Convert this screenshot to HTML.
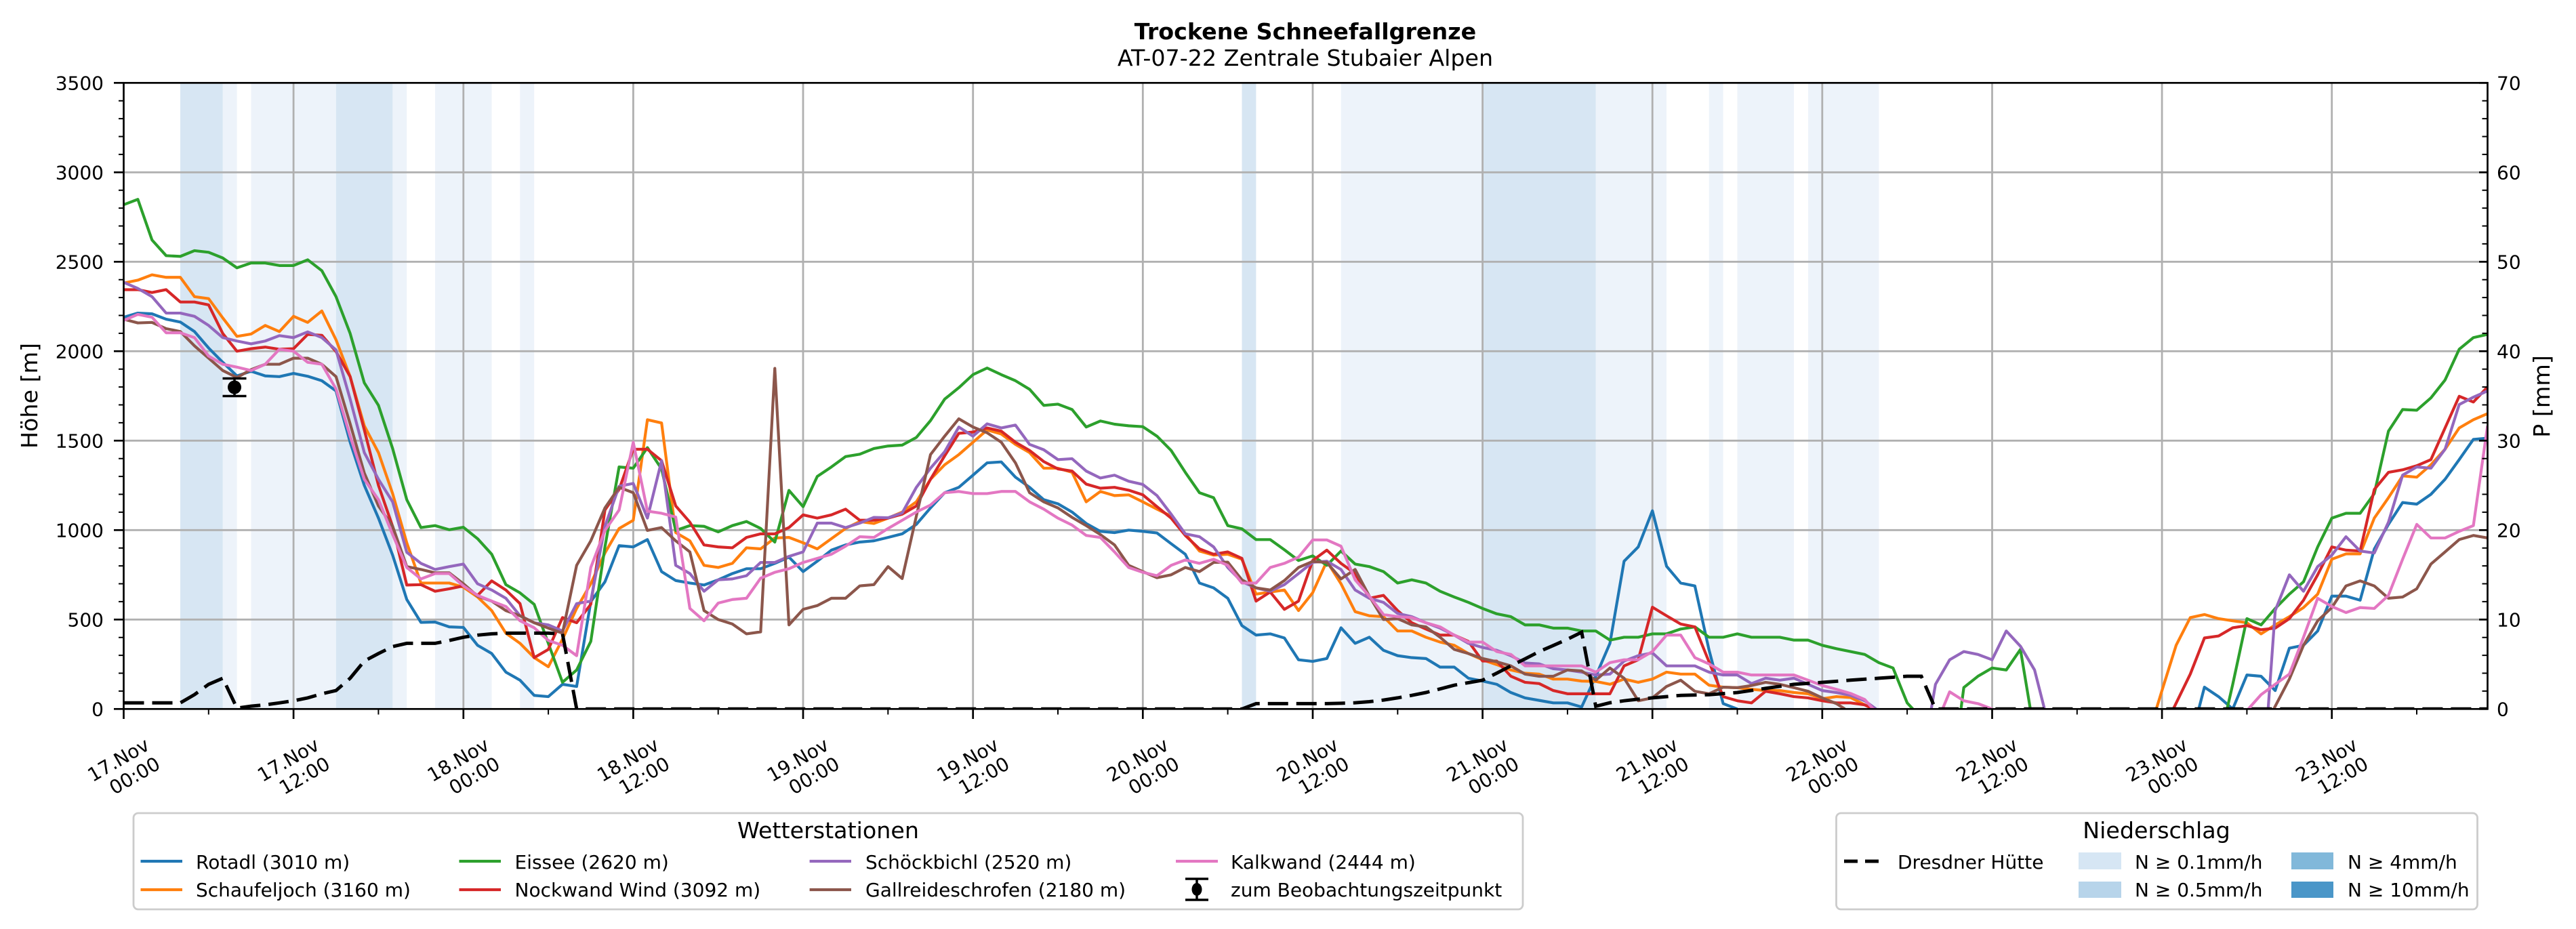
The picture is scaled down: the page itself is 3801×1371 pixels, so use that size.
<!DOCTYPE html>
<html>
<head>
<meta charset="utf-8">
<style>
html,body{margin:0;padding:0;background:#fff;}
svg{display:block;}
text{font-family:"DejaVu Sans","Liberation Sans",sans-serif;fill:#000;}
</style>
</head>
<body>
<svg width="3801" height="1371" viewBox="0 0 3801 1371" xmlns="http://www.w3.org/2000/svg">
<defs>
<clipPath id="c"><rect x="182.5" y="122.3" width="3488" height="924"/></clipPath>
</defs>
<rect x="0" y="0" width="3801" height="1371" fill="#fff"/>

<!-- Title -->
<text x="1926" y="58" font-size="33.3" font-weight="bold" text-anchor="middle">Trockene Schneefallgrenze</text>
<text x="1926" y="97" font-size="33.3" text-anchor="middle">AT-07-22 Zentrale Stubaier Alpen</text>

<!-- precipitation bands -->
<g fill="#edf3fa">
<rect x="328.7" y="122.3" width="20.9" height="924"/>
<rect x="370.5" y="122.3" width="125.3" height="924"/>
<rect x="579.3" y="122.3" width="20.9" height="924"/>
<rect x="642.0" y="122.3" width="83.5" height="924"/>
<rect x="767.3" y="122.3" width="20.9" height="924"/>
<rect x="1978.7" y="122.3" width="208.9" height="924"/>
<rect x="2354.6" y="122.3" width="104.4" height="924"/>
<rect x="2521.7" y="122.3" width="20.9" height="924"/>
<rect x="2563.5" y="122.3" width="83.5" height="924"/>
<rect x="2667.9" y="122.3" width="104.5" height="924"/>
</g>
<g fill="#d7e6f3">
<rect x="266.0" y="122.3" width="62.7" height="924"/>
<rect x="495.8" y="122.3" width="83.5" height="924"/>
<rect x="1832.5" y="122.3" width="20.9" height="924"/>
<rect x="2187.6" y="122.3" width="167.0" height="924"/>
</g>

<!-- grid -->
<g stroke="#b0b0b0" stroke-width="2.8">
<line x1="182.5" y1="914.3" x2="3670.5" y2="914.3"/>
<line x1="182.5" y1="782.3" x2="3670.5" y2="782.3"/>
<line x1="182.5" y1="650.3" x2="3670.5" y2="650.3"/>
<line x1="182.5" y1="518.3" x2="3670.5" y2="518.3"/>
<line x1="182.5" y1="386.3" x2="3670.5" y2="386.3"/>
<line x1="182.5" y1="254.3" x2="3670.5" y2="254.3"/>
<line x1="433.1" y1="122.3" x2="433.1" y2="1046.3"/>
<line x1="683.8" y1="122.3" x2="683.8" y2="1046.3"/>
<line x1="934.4" y1="122.3" x2="934.4" y2="1046.3"/>
<line x1="1185.0" y1="122.3" x2="1185.0" y2="1046.3"/>
<line x1="1435.7" y1="122.3" x2="1435.7" y2="1046.3"/>
<line x1="1686.3" y1="122.3" x2="1686.3" y2="1046.3"/>
<line x1="1937.0" y1="122.3" x2="1937.0" y2="1046.3"/>
<line x1="2187.6" y1="122.3" x2="2187.6" y2="1046.3"/>
<line x1="2438.2" y1="122.3" x2="2438.2" y2="1046.3"/>
<line x1="2688.8" y1="122.3" x2="2688.8" y2="1046.3"/>
<line x1="2939.5" y1="122.3" x2="2939.5" y2="1046.3"/>
<line x1="3190.1" y1="122.3" x2="3190.1" y2="1046.3"/>
<line x1="3440.7" y1="122.3" x2="3440.7" y2="1046.3"/>
</g>

<!-- data series -->
<g clip-path="url(#c)">
<g transform="translate(182.5,1046.3) scale(20.886,-0.264)" fill="none" stroke-width="4.2" stroke-linejoin="round">
<g stroke="#1f77b4">
<polyline vector-effect="non-scaling-stroke" points="0,2190 1,2213 2,2209 3,2179 4,2163 5,2110 6,2018 7,1938 8,1862 9,1888 10,1862 11,1858 12,1876 13,1860 14,1835 15,1778 16,1491 17,1250 18,1067 19,860 20,612 21,484 22,486 23,459 24,456 25,356 26,310 27,206 28,161 29,76 30,69 31,138 32,126 33,600 34,711 35,913 36,906 37,947 38,768 39,718 40,704 41,693 42,722 43,757 44,784 45,784 46,814 47,849 48,768 49,826 50,888 51,917 52,933 53,940 54,959 55,979 56,1032 57,1124 58,1209 59,1239 60,1307 61,1376 62,1381 63,1296 64,1239 65,1170 66,1147 67,1101 68,1037 69,993 70,986 71,1000 72,993 73,984 74,924 75,865 76,704 77,677 78,619 79,466 80,413 81,420 82,397 83,275 84,266 85,282 86,454 87,367 88,401 89,328 90,298 91,287 92,282 93,234 94,234 95,172 96,156 97,138 98,92 99,62 100,48 101,34 102,34 103,11 104,183 105,367 106,826 107,906 108,1108 109,798 110,704 111,688 112,330 113,30 114,0"/>
<polyline vector-effect="non-scaling-stroke" points="146.6,0 147,122 148,69 149,0 150,190 151,183 152,103 153,340 154,356 155,436 156,631 157,631 158,608 159,894 160,1032 161,1154 162,1145 163,1200 164,1284 165,1394 166,1507 167,1514"/>
</g>
<g stroke="#ff7f0e">
<polyline vector-effect="non-scaling-stroke" points="0,2381 1,2397 2,2427 3,2413 4,2413 5,2305 6,2294 7,2186 8,2083 9,2096 10,2144 11,2110 12,2195 13,2161 14,2225 15,2064 16,1858 17,1583 18,1433 19,1204 20,929 21,704 22,704 23,704 24,681 25,626 26,550 27,424 28,367 29,287 30,236 31,390 32,562 33,700 34,872 35,1009 36,1055 37,1617 38,1599 39,986 40,940 41,803 42,791 43,814 44,901 45,895 46,956 47,959 48,929 49,895 50,952 51,1009 52,1048 53,1037 54,1067 55,1101 56,1158 57,1284 58,1365 59,1422 60,1491 61,1560 62,1537 63,1479 64,1433 65,1346 66,1346 67,1323 68,1158 69,1216 70,1193 71,1197 72,1158 73,1117 74,1078 75,979 76,883 77,860 78,865 79,837 80,642 81,654 82,665 83,550 84,650 85,826 86,700 87,544 88,521 89,516 90,436 91,436 92,401 93,374 94,356 95,310 96,275 97,248 98,218 99,200 100,195 101,167 102,167 103,156 104,154 105,138 106,167 107,149 108,167 109,206 110,195 111,195 112,133 113,122 114,119 115,110 116,103 117,103 118,92 119,85 120,57 121,69 122,64 123,23 123.6,0"/>
<polyline vector-effect="non-scaling-stroke" points="143.6,0 144,103 145,356 146,511 147,528 148,505 149,493 150,482 151,420 152,470 153,516 154,567 155,642 156,837 157,867 158,867 159,1067 160,1181 161,1303 162,1296 163,1365 164,1452 165,1571 166,1617 167,1651"/>
</g>
<g stroke="#2ca02c">
<polyline vector-effect="non-scaling-stroke" points="0,2819 1,2849 2,2622 3,2534 4,2530 5,2562 6,2553 7,2521 8,2466 9,2493 10,2493 11,2479 12,2479 13,2511 14,2450 15,2305 16,2099 17,1823 18,1697 19,1456 20,1170 21,1014 22,1025 23,1002 24,1016 25,952 26,865 27,695 28,649 29,585 30,367 31,149 32,218 33,378 34,906 35,1353 36,1346 37,1461 38,1342 39,998 40,1025 41,1021 42,990 43,1025 44,1048 45,1009 46,933 47,1222 48,1131 49,1300 50,1353 51,1411 52,1424 53,1456 54,1470 55,1475 56,1518 57,1612 58,1732 59,1796 60,1869 61,1906 62,1869 63,1835 64,1787 65,1697 66,1704 67,1674 68,1576 69,1610 70,1592 71,1583 72,1578 73,1525 74,1445 75,1323 76,1209 77,1181 78,1025 79,1007 80,947 81,947 82,890 83,830 84,856 85,803 86,883 87,810 88,796 89,768 90,704 91,722 92,704 93,658 94,626 95,596 96,562 97,532 98,516 99,470 100,470 101,452 102,452 103,436 104,436 105,385 106,401 107,401 108,420 109,420 110,447 111,459 112,401 113,401 114,420 115,401 116,401 117,401 118,385 119,385 120,356 121,337 122,321 123,305 124,259 125,229 126,34 126.4,0"/>
<polyline vector-effect="non-scaling-stroke" points="129.8,0 130,120 131,183 132,229 133,218 134,333 134.7,0"/>
<polyline vector-effect="non-scaling-stroke" points="148.6,0 149,138 150,505 151,470 152,562 153,642 154,711 155,906 156,1067 157,1094 158,1094 159,1204 160,1553 161,1674 162,1670 163,1739 164,1839 165,2011 166,2076 167,2094"/>
</g>
<g stroke="#d62728">
<polyline vector-effect="non-scaling-stroke" points="0,2344 1,2344 2,2328 3,2344 4,2275 5,2275 6,2259 7,2099 8,2000 9,2014 10,2023 11,2011 12,2014 13,2094 14,2089 15,1998 16,1858 17,1560 18,1250 19,1021 20,693 21,695 22,658 23,672 24,688 25,635 26,716 27,665 28,589 29,287 30,333 31,511 32,482 33,585 34,1112 35,1227 36,1452 37,1452 38,1388 39,1135 40,1044 41,917 42,906 43,901 44,959 45,979 46,979 47,1014 48,1085 49,1067 50,1085 51,1117 52,1055 53,1055 54,1067 55,1089 56,1135 57,1284 58,1415 59,1541 60,1548 61,1571 62,1553 63,1491 64,1445 65,1383 66,1342 67,1330 68,1257 69,1234 70,1239 71,1223 72,1197 73,1131 74,1067 75,970 76,895 77,865 78,878 79,842 80,603 81,654 82,557 83,603 84,830 85,888 86,814 87,757 88,619 89,635 90,550 91,482 92,447 93,413 94,413 95,378 96,268 97,268 98,183 99,149 100,142 101,103 102,85 103,85 104,85 105,85 106,241 107,275 108,569 109,521 110,475 111,459 112,264 113,69 114,46 115,34 116,99 117,85 118,69 119,62 120,46 121,34 122,34 123,23 123.6,0"/>
<polyline vector-effect="non-scaling-stroke" points="144.8,0 146,195 147,397 148,408 149,454 150,466 151,443 152,452 153,505 154,608 155,750 156,906 157,888 158,883 159,1227 160,1323 161,1337 162,1360 163,1394 164,1571 165,1748 166,1716 167,1800"/>
</g>
<g stroke="#9467bd">
<polyline vector-effect="non-scaling-stroke" points="0,2385 1,2351 2,2305 3,2213 4,2213 5,2195 6,2144 7,2076 8,2057 9,2041 10,2057 11,2087 12,2076 13,2108 14,2076 15,2007 16,1732 17,1433 18,1284 19,1158 20,876 21,814 22,780 23,796 24,810 25,700 26,665 27,619 28,521 29,482 30,470 31,436 32,589 33,603 34,1021 35,1245 36,1261 37,1067 38,1388 39,803 40,757 41,658 42,722 43,727 44,745 45,819 46,819 47,853 48,878 49,1039 50,1039 51,1014 52,1039 53,1071 54,1069 55,1096 56,1239 57,1346 58,1438 59,1576 60,1525 61,1594 62,1571 63,1587 64,1479 65,1449 66,1394 67,1399 68,1330 69,1291 70,1307 71,1273 72,1255 73,1193 74,1089 75,979 76,963 77,906 78,791 79,711 80,677 81,658 82,695 83,757 84,820 85,826 86,780 87,665 88,619 89,596 90,534 91,516 92,482 93,452 94,413 95,367 96,344 97,328 98,298 99,257 100,252 101,225 102,218 103,206 104,190 105,195 106,268 107,298 108,314 109,241 110,241 111,241 112,206 113,190 114,190 115,142 116,172 117,161 118,172 119,138 120,103 121,92 122,76 123,46 123.8,0"/>
<polyline vector-effect="non-scaling-stroke" points="127.7,0 128,138 129,275 130,321 131,305 132,275 133,436 134,351 135,218 135.7,0"/>
<polyline vector-effect="non-scaling-stroke" points="151.5,0 152,550 153,750 154,658 155,796 156,860 157,963 158,883 159,872 160,1044 161,1307 162,1353 163,1346 164,1452 165,1702 166,1743 167,1778"/>
</g>
<g stroke="#8c564b">
<polyline vector-effect="non-scaling-stroke" points="0,2179 1,2158 2,2161 3,2126 4,2110 5,2030 6,1961 7,1892 8,1853 9,1897 10,1927 11,1927 12,1961 13,1961 14,1927 15,1858 16,1594 17,1319 18,1135 19,1021 20,796 21,780 22,761 23,761 24,700 25,631 26,603 27,550 28,521 29,482 30,452 31,424 32,803 33,940 34,1124 35,1239 36,1209 37,998 38,1014 39,940 40,878 41,550 42,500 43,475 44,420 45,431 46,1904 47,470 48,557 49,578 50,619 51,619 52,688 53,695 54,796 55,729 56,1078 57,1422 58,1525 59,1622 60,1576 61,1544 62,1491 63,1376 64,1209 65,1158 66,1124 67,1071 68,1025 69,975 70,917 71,803 72,768 73,734 74,750 75,791 76,768 77,819 78,821 79,722 80,677 81,665 82,718 83,791 84,825 85,819 86,727 87,780 88,631 89,500 90,505 91,470 92,459 93,401 94,333 95,310 96,282 97,264 98,241 99,195 100,183 101,183 102,218 103,213 104,161 105,229 106,172 107,46 108,62 109,126 110,161 111,99 112,85 113,122 114,119 115,131 116,149 117,138 118,119 119,99 120,62 121,30 121.6,0"/>
<polyline vector-effect="non-scaling-stroke" points="151.9,0 153,167 154,356 155,493 156,567 157,688 158,716 159,688 160,619 161,626 162,672 163,810 164,878 165,947 166,970 167,956"/>
</g>
<g stroke="#e377c2">
<polyline vector-effect="non-scaling-stroke" points="0,2172 1,2206 2,2190 3,2103 4,2103 5,2076 6,1973 7,1927 8,1911 9,1892 10,1927 11,2011 12,2000 13,1938 14,1927 15,1789 16,1525 17,1284 18,1170 19,975 20,791 21,727 22,757 23,757 24,688 25,635 26,603 27,573 28,493 29,454 30,383 31,356 32,298 33,791 34,998 35,1112 36,1491 37,1106 38,1094 39,1073 40,562 41,493 42,592 43,612 44,619 45,731 46,764 47,784 48,819 49,842 50,865 51,910 52,963 53,959 54,1009 55,1055 56,1101 57,1140 58,1209 59,1216 60,1204 61,1204 62,1216 63,1216 64,1158 65,1117 66,1067 67,1028 68,970 69,959 70,878 71,791 72,764 73,745 74,803 75,833 76,814 77,837 78,803 79,704 80,704 81,791 82,814 83,849 84,945 85,945 86,910 87,722 88,631 89,528 90,516 91,511 92,482 93,459 94,413 95,374 96,374 97,321 98,305 99,241 100,241 101,241 102,241 103,241 104,206 105,259 106,275 107,275 108,321 109,413 110,413 111,287 112,252 113,206 114,206 115,190 116,190 117,190 118,190 119,161 120,131 121,110 122,87 123,53 123.6,0"/>
<polyline vector-effect="non-scaling-stroke" points="128.5,0 129,96 130,46 131,30 132,0"/>
<polyline vector-effect="non-scaling-stroke" points="150.1,0 151,80 152,138 153,195 154,401 155,619 156,573 157,539 158,567 159,562 160,635 161,837 162,1032 163,956 164,956 165,993 166,1025 167,1583"/>
</g>
</g>

<!-- observation error bar -->
<g stroke="#000" stroke-width="3.5">
<line x1="346" y1="558.5" x2="346" y2="584.5"/>
<line x1="328.5" y1="558.5" x2="363.5" y2="558.5"/>
<line x1="328.5" y1="584.5" x2="363.5" y2="584.5"/>
</g>
<circle cx="346" cy="571.5" r="10" fill="#000"/>

<!-- Dresdner Huette dashed -->
<polyline fill="none" stroke="#000" stroke-width="5" stroke-dasharray="30,12" points="182.5,1037.3 266.0,1037.3 286.9,1025.2 307.8,1009.9 328.7,1000.9 349.6,1045.0 370.5,1042.1 391.4,1040.2 412.2,1037.3 433.1,1034.2 454.0,1029.9 474.9,1023.9 495.8,1019.1 516.7,1000.9 537.6,975.5 558.4,964.5 579.3,954.2 600.2,949.4 621.1,949.4 642.0,949.4 662.9,945.2 683.8,940.4 704.7,937.3 725.5,935.4 746.4,934.4 809.1,934.4 830.0,935.4 850.9,1046.3 1832.5,1046.3 1853.4,1038.4 1957.8,1038.4 1978.7,1037.9 1999.6,1037.1 2020.5,1035.5 2041.4,1033.1 2062.2,1029.9 2083.1,1026.2 2104.0,1022.0 2124.9,1016.7 2145.8,1011.2 2166.7,1007.5 2187.6,1003.8 2208.4,993.5 2229.3,982.7 2250.2,972.4 2271.1,961.6 2292.0,952.6 2312.9,943.3 2333.8,933.0 2354.6,1042.3 2375.5,1037.1 2396.4,1034.2 2417.3,1031.8 2438.2,1029.9 2480.0,1026.2 2521.7,1025.2 2563.5,1022.0 2605.3,1015.9 2647.0,1009.9 2688.8,1007.0 2730.6,1003.8 2772.4,1000.9 2814.1,998.0 2835.0,998.0 2855.9,1046.3 3670.5,1046.3"/>
</g>

<!-- spines -->
<rect x="182.5" y="122.3" width="3488" height="924" fill="none" stroke="#000" stroke-width="2.7"/>

<!-- left ticks -->
<g stroke="#000" stroke-width="2.7">
<line x1="168" y1="1046.3" x2="182.5" y2="1046.3"/>
<line x1="168" y1="914.3" x2="182.5" y2="914.3"/>
<line x1="168" y1="782.3" x2="182.5" y2="782.3"/>
<line x1="168" y1="650.3" x2="182.5" y2="650.3"/>
<line x1="168" y1="518.3" x2="182.5" y2="518.3"/>
<line x1="168" y1="386.3" x2="182.5" y2="386.3"/>
<line x1="168" y1="254.3" x2="182.5" y2="254.3"/>
<line x1="168" y1="122.3" x2="182.5" y2="122.3"/>
<!-- right major ticks inward -->
<line x1="3658" y1="1046.3" x2="3670.5" y2="1046.3"/>
<line x1="3658" y1="914.3" x2="3670.5" y2="914.3"/>
<line x1="3658" y1="782.3" x2="3670.5" y2="782.3"/>
<line x1="3658" y1="650.3" x2="3670.5" y2="650.3"/>
<line x1="3658" y1="518.3" x2="3670.5" y2="518.3"/>
<line x1="3658" y1="386.3" x2="3670.5" y2="386.3"/>
<line x1="3658" y1="254.3" x2="3670.5" y2="254.3"/>
<line x1="3658" y1="122.3" x2="3670.5" y2="122.3"/>
<!-- bottom major ticks -->
<line x1="182.5" y1="1046.3" x2="182.5" y2="1061"/>
<line x1="433.1" y1="1046.3" x2="433.1" y2="1061"/>
<line x1="683.8" y1="1046.3" x2="683.8" y2="1061"/>
<line x1="934.4" y1="1046.3" x2="934.4" y2="1061"/>
<line x1="1185.0" y1="1046.3" x2="1185.0" y2="1061"/>
<line x1="1435.7" y1="1046.3" x2="1435.7" y2="1061"/>
<line x1="1686.3" y1="1046.3" x2="1686.3" y2="1061"/>
<line x1="1937.0" y1="1046.3" x2="1937.0" y2="1061"/>
<line x1="2187.6" y1="1046.3" x2="2187.6" y2="1061"/>
<line x1="2438.2" y1="1046.3" x2="2438.2" y2="1061"/>
<line x1="2688.8" y1="1046.3" x2="2688.8" y2="1061"/>
<line x1="2939.5" y1="1046.3" x2="2939.5" y2="1061"/>
<line x1="3190.1" y1="1046.3" x2="3190.1" y2="1061"/>
<line x1="3440.7" y1="1046.3" x2="3440.7" y2="1061"/>
</g>
<g stroke="#000" stroke-width="2">
<!-- bottom minor -->
<line x1="307.8" y1="1046.3" x2="307.8" y2="1054.5"/>
<line x1="558.4" y1="1046.3" x2="558.4" y2="1054.5"/>
<line x1="809.1" y1="1046.3" x2="809.1" y2="1054.5"/>
<line x1="1059.7" y1="1046.3" x2="1059.7" y2="1054.5"/>
<line x1="1310.3" y1="1046.3" x2="1310.3" y2="1054.5"/>
<line x1="1561.0" y1="1046.3" x2="1561.0" y2="1054.5"/>
<line x1="1811.6" y1="1046.3" x2="1811.6" y2="1054.5"/>
<line x1="2062.3" y1="1046.3" x2="2062.3" y2="1054.5"/>
<line x1="2312.9" y1="1046.3" x2="2312.9" y2="1054.5"/>
<line x1="2563.5" y1="1046.3" x2="2563.5" y2="1054.5"/>
<line x1="2814.1" y1="1046.3" x2="2814.1" y2="1054.5"/>
<line x1="3064.8" y1="1046.3" x2="3064.8" y2="1054.5"/>
<line x1="3315.4" y1="1046.3" x2="3315.4" y2="1054.5"/>
<line x1="3566.0" y1="1046.3" x2="3566.0" y2="1054.5"/>
</g>
<!-- left & right minor ticks (every 26.4px) -->
<path stroke="#000" stroke-width="2" fill="none" d="
M175,1019.9H182.5 M175,993.5H182.5 M175,967.1H182.5 M175,940.7H182.5
M175,887.9H182.5 M175,861.5H182.5 M175,835.1H182.5 M175,808.7H182.5
M175,755.9H182.5 M175,729.5H182.5 M175,703.1H182.5 M175,676.7H182.5
M175,623.9H182.5 M175,597.5H182.5 M175,571.1H182.5 M175,544.7H182.5
M175,491.9H182.5 M175,465.5H182.5 M175,439.1H182.5 M175,412.7H182.5
M175,359.9H182.5 M175,333.5H182.5 M175,307.1H182.5 M175,280.7H182.5
M175,227.9H182.5 M175,201.5H182.5 M175,175.1H182.5 M175,148.7H182.5
M3662.5,1019.9H3670.5 M3662.5,993.5H3670.5 M3662.5,967.1H3670.5 M3662.5,940.7H3670.5
M3662.5,887.9H3670.5 M3662.5,861.5H3670.5 M3662.5,835.1H3670.5 M3662.5,808.7H3670.5
M3662.5,755.9H3670.5 M3662.5,729.5H3670.5 M3662.5,703.1H3670.5 M3662.5,676.7H3670.5
M3662.5,623.9H3670.5 M3662.5,597.5H3670.5 M3662.5,571.1H3670.5 M3662.5,544.7H3670.5
M3662.5,491.9H3670.5 M3662.5,465.5H3670.5 M3662.5,439.1H3670.5 M3662.5,412.7H3670.5
M3662.5,359.9H3670.5 M3662.5,333.5H3670.5 M3662.5,307.1H3670.5 M3662.5,280.7H3670.5
M3662.5,227.9H3670.5 M3662.5,201.5H3670.5 M3662.5,175.1H3670.5 M3662.5,148.7H3670.5"/>

<!-- left tick labels -->
<g font-size="28" text-anchor="end">
<text x="153" y="1056.3">0</text>
<text x="153" y="924.3">500</text>
<text x="153" y="792.3">1000</text>
<text x="153" y="660.3">1500</text>
<text x="153" y="528.3">2000</text>
<text x="153" y="396.3">2500</text>
<text x="153" y="264.3">3000</text>
<text x="153" y="132.3">3500</text>
</g>
<!-- right tick labels -->
<g font-size="28" text-anchor="start">
<text x="3684" y="1056.3">0</text>
<text x="3684" y="924.3">10</text>
<text x="3684" y="792.3">20</text>
<text x="3684" y="660.3">30</text>
<text x="3684" y="528.3">40</text>
<text x="3684" y="396.3">50</text>
<text x="3684" y="264.3">60</text>
<text x="3684" y="132.3">70</text>
</g>

<!-- axis labels -->
<text transform="translate(55,584) rotate(-90)" font-size="33.3" text-anchor="middle">Höhe [m]</text>
<text transform="translate(3762,585) rotate(-90)" font-size="33.3" text-anchor="middle">P [mm]</text>

<!-- x tick labels -->
<g font-size="28" text-anchor="end">
<text transform="translate(222.5,1105) rotate(-30)">17.Nov</text><text transform="translate(238.5,1133) rotate(-30)">00:00</text>
<text transform="translate(473.1,1105) rotate(-30)">17.Nov</text><text transform="translate(489.1,1133) rotate(-30)">12:00</text>
<text transform="translate(723.8,1105) rotate(-30)">18.Nov</text><text transform="translate(739.8,1133) rotate(-30)">00:00</text>
<text transform="translate(974.4,1105) rotate(-30)">18.Nov</text><text transform="translate(990.4,1133) rotate(-30)">12:00</text>
<text transform="translate(1225.0,1105) rotate(-30)">19.Nov</text><text transform="translate(1241.0,1133) rotate(-30)">00:00</text>
<text transform="translate(1475.7,1105) rotate(-30)">19.Nov</text><text transform="translate(1491.7,1133) rotate(-30)">12:00</text>
<text transform="translate(1726.3,1105) rotate(-30)">20.Nov</text><text transform="translate(1742.3,1133) rotate(-30)">00:00</text>
<text transform="translate(1977.0,1105) rotate(-30)">20.Nov</text><text transform="translate(1993.0,1133) rotate(-30)">12:00</text>
<text transform="translate(2227.6,1105) rotate(-30)">21.Nov</text><text transform="translate(2243.6,1133) rotate(-30)">00:00</text>
<text transform="translate(2478.2,1105) rotate(-30)">21.Nov</text><text transform="translate(2494.2,1133) rotate(-30)">12:00</text>
<text transform="translate(2728.8,1105) rotate(-30)">22.Nov</text><text transform="translate(2744.8,1133) rotate(-30)">00:00</text>
<text transform="translate(2979.5,1105) rotate(-30)">22.Nov</text><text transform="translate(2995.5,1133) rotate(-30)">12:00</text>
<text transform="translate(3230.1,1105) rotate(-30)">23.Nov</text><text transform="translate(3246.1,1133) rotate(-30)">00:00</text>
<text transform="translate(3480.7,1105) rotate(-30)">23.Nov</text><text transform="translate(3496.7,1133) rotate(-30)">12:00</text>
</g>

<!-- Legend: Wetterstationen -->
<rect x="197" y="1200" width="2050" height="142" rx="7" ry="7" fill="#fff" stroke="#cccccc" stroke-width="2.8"/>
<text x="1222" y="1237" font-size="33.3" text-anchor="middle">Wetterstationen</text>
<g stroke-width="4.2">
<line x1="207.5" y1="1271" x2="269" y2="1271" stroke="#1f77b4"/>
<line x1="207.5" y1="1313" x2="269" y2="1313" stroke="#ff7f0e"/>
<line x1="677.5" y1="1271" x2="739" y2="1271" stroke="#2ca02c"/>
<line x1="677.5" y1="1313" x2="739" y2="1313" stroke="#d62728"/>
<line x1="1194.6" y1="1271" x2="1256" y2="1271" stroke="#9467bd"/>
<line x1="1194.6" y1="1313" x2="1256" y2="1313" stroke="#8c564b"/>
<line x1="1735" y1="1271" x2="1797" y2="1271" stroke="#e377c2"/>
</g>
<g stroke="#000" stroke-width="3.5">
<line x1="1766" y1="1297" x2="1766" y2="1328"/>
<line x1="1749" y1="1297" x2="1783" y2="1297"/>
<line x1="1749" y1="1328" x2="1783" y2="1328"/>
</g>
<ellipse cx="1766" cy="1312.5" rx="7.5" ry="9.5" fill="#000"/>
<g font-size="28">
<text x="289" y="1282">Rotadl (3010 m)</text>
<text x="289" y="1323">Schaufeljoch (3160 m)</text>
<text x="759.5" y="1282">Eissee (2620 m)</text>
<text x="759.5" y="1323">Nockwand Wind (3092 m)</text>
<text x="1277" y="1282">Schöckbichl (2520 m)</text>
<text x="1277" y="1323">Gallreideschrofen (2180 m)</text>
<text x="1816" y="1282">Kalkwand (2444 m)</text>
<text x="1816" y="1323">zum Beobachtungszeitpunkt</text>
</g>

<!-- Legend: Niederschlag -->
<rect x="2709.5" y="1200" width="946" height="142" rx="7" ry="7" fill="#fff" stroke="#cccccc" stroke-width="2.8"/>
<text x="3182" y="1237" font-size="33.3" text-anchor="middle">Niederschlag</text>
<line x1="2721" y1="1271" x2="2778" y2="1271" stroke="#000" stroke-width="5" stroke-dasharray="20,11"/>
<rect x="3067" y="1258" width="63" height="25" fill="#d6e6f4"/>
<rect x="3067" y="1301" width="63" height="24" fill="#b7d4ea"/>
<rect x="3381" y="1258" width="62" height="25" fill="#81b8da"/>
<rect x="3381" y="1301" width="62" height="24" fill="#4a96c8"/>
<g font-size="28">
<text x="2800" y="1282">Dresdner Hütte</text>
<text x="3150" y="1282">N ≥ 0.1mm/h</text>
<text x="3150" y="1323">N ≥ 0.5mm/h</text>
<text x="3464" y="1282">N ≥ 4mm/h</text>
<text x="3464" y="1323">N ≥ 10mm/h</text>
</g>
</svg>
</body>
</html>
